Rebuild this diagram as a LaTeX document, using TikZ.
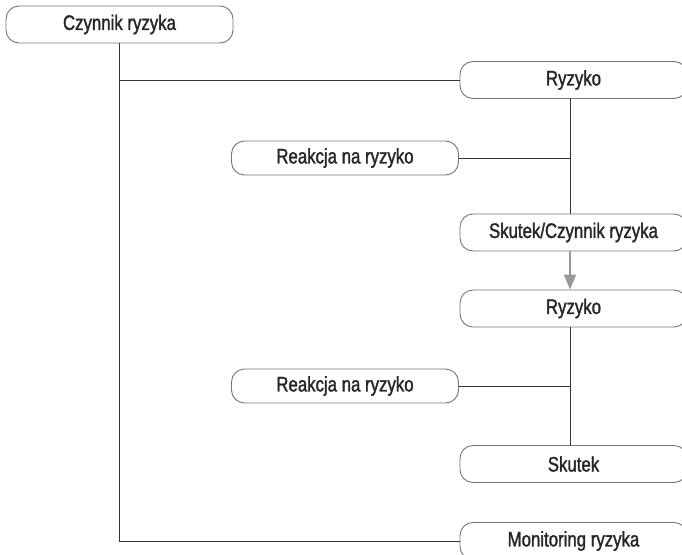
\documentclass[tikz,border=0pt]{standalone}
\usepackage{fontspec}
\setmainfont[FakeStretch=0.8, FakeBold=1.5]{Liberation Sans}
\usetikzlibrary{arrows.meta}
\begin{document}
\begin{tikzpicture}[x=1pt, y=-1pt,
  box/.style={draw=black!55, line width=0.9pt, rounded corners=13pt, minimum width=227pt, minimum height=37pt, inner sep=0pt, text=black!85, font=\fontsize{21}{24}\selectfont},
  link/.style={black!80, line width=1pt},
  flow/.style={gray!80, line width=2.2pt, -{Triangle[length=15pt, width=12pt]}}]
\useasboundingbox (0,0) rectangle (682,554);
\node[box] (czynnik) at (119.5,24.5){Czynnik ryzyka};
\node[box] (ryzyko1) at (573.5,80){Ryzyko};
\node[box, minimum height=34pt] (reakcja1) at (345,158){Reakcja na ryzyko};
\node[box] (skutekczynnik) at (573.5,232.5){Skutek/Czynnik ryzyka};
\node[box] (ryzyko2) at (573.5,308.5){Ryzyko};
\node[box, minimum height=34pt] (reakcja2) at (345,386){Reakcja na ryzyko};
\node[box] (skutek) at (573.5,464){Skutek};
\node[box] (monitoring) at (573.5,541){Monitoring ryzyka};
\coordinate (corner) at (czynnik.south |- monitoring.west);
\draw[link] (czynnik.south) -- (corner) -- (monitoring.west);
\draw[link] (czynnik.south |- ryzyko1.west) -- (ryzyko1.west);
\draw[link] (ryzyko1.south -| 570,0) -- (skutekczynnik.north -| 570,0);
\draw[link] (reakcja1.east) -- (reakcja1.east -| 570,0);
\draw[flow] (skutekczynnik.south -| 570,0) -- (ryzyko2.north -| 570,0);
\draw[link] (ryzyko2.south -| 570,0) -- (skutek.north -| 570,0);
\draw[link] (reakcja2.east) -- (reakcja2.east -| 570,0);
\end{tikzpicture}
\end{document}
